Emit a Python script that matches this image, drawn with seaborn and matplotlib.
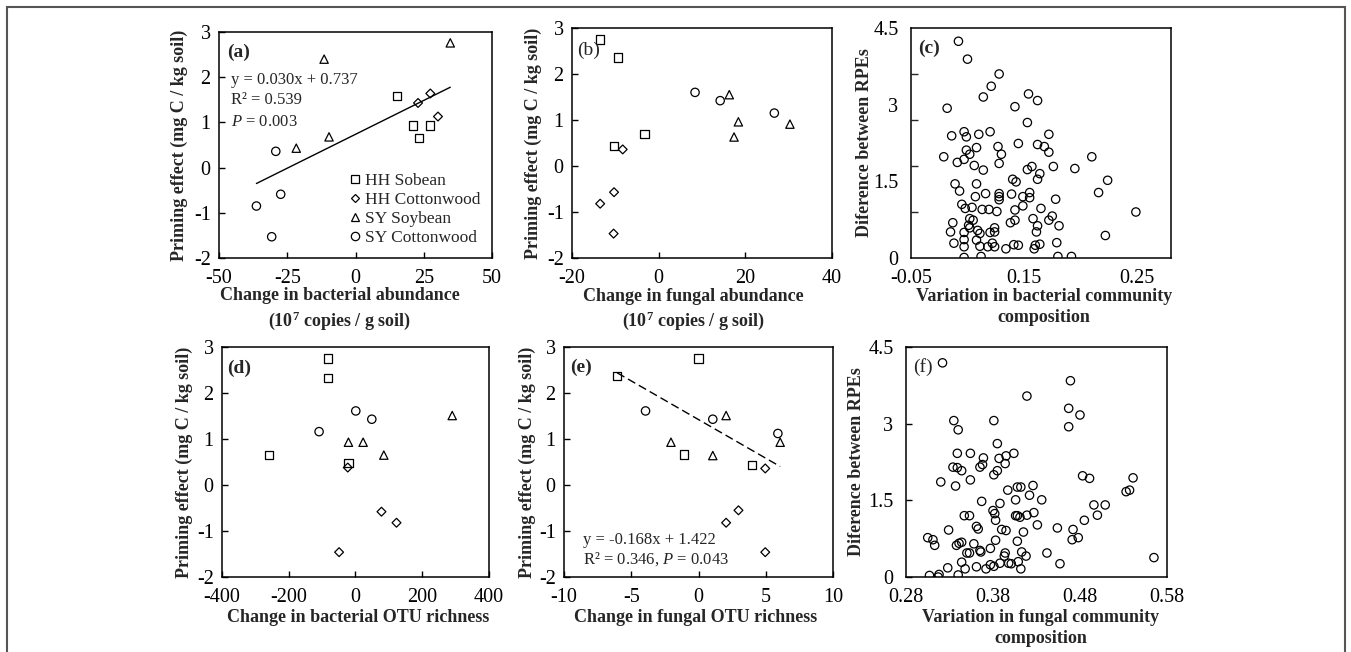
import matplotlib
matplotlib.use("Agg")
import numpy as np
import pandas as pd
import matplotlib.pyplot as plt
import seaborn as sns
from matplotlib.lines import Line2D
from matplotlib.markers import MarkerStyle
from matplotlib.transforms import Affine2D
from matplotlib.patches import Rectangle
from matplotlib.ticker import FixedLocator

# ---- data ----
groups = ["HH Sobean", "HH Cottonwood", "SY Soybean", "SY Cottonwood"]

# (a) change in bacterial abundance
a_x = [15.2, 21.1, 27.2, 23.3,
       22.9, 27.4, 30.2,
       34.7, -11.5, -9.7, -21.7,
       -29.2, -27.4, -36.3, -30.7]
a_y = [1.58, 0.93, 0.93, 0.65,
       1.43, 1.64, 1.13,
       2.76, 2.40, 0.68, 0.43,
       0.36, -0.59, -0.85, -1.53]
a_group = [groups[0]] * 4 + [groups[1]] * 3 + [groups[2]] * 4 + [groups[3]] * 4
a_fit = (0.030, 0.737)

# (b) change in fungal abundance
b_x = [-13.5, -9.4, -3.3, -10.3,
       -8.3, -10.3, -13.5, -10.4,
       16.3, 18.4, 17.4, 30.3,
       8.4, 14.2, 26.7]
b_y = [2.75, 2.36, 0.69, 0.43,
       0.36, -0.57, -0.82, -1.47,
       1.55, 0.96, 0.63, 0.91,
       1.60, 1.42, 1.15]
b_group = [groups[0]] * 4 + [groups[1]] * 4 + [groups[2]] * 4 + [groups[3]] * 3

# (d) change in bacterial OTU richness
d_x = [-83, -83, -259, -21,
       -23, 78, 123, -49,
       -21, 23, 85, 290,
       1, 49, -109]
d_y = [2.75, 2.33, 0.65, 0.48,
       0.38, -0.58, -0.82, -1.46,
       0.93, 0.93, 0.65, 1.51,
       1.61, 1.43, 1.16]
d_group = b_group

# (e) change in fungal OTU richness
e_x = [-6.05, 0.0, -1.06, 3.99,
       4.96, 2.05, 2.97, 4.96,
       2.05, -2.05, 1.06, 6.07,
       -3.94, 1.06, 5.9]
e_y = [2.37, 2.75, 0.66, 0.44,
       0.36, -0.82, -0.55, -1.46,
       1.51, 0.93, 0.64, 0.93,
       1.61, 1.43, 1.12]
e_group = b_group
e_fit = (-0.168, 1.422)

# (c) variation in bacterial community composition vs difference between RPEs
c_x = [0.092, 0.100, 0.128, 0.121, 0.114, 0.154, 0.162, 0.142, 0.082, 0.153,
       0.086, 0.097, 0.099, 0.110, 0.120, 0.172, 0.145, 0.162, 0.168, 0.172,
       0.127, 0.130, 0.108, 0.099, 0.102, 0.079, 0.097, 0.091, 0.128, 0.106,
       0.114, 0.153, 0.157, 0.176, 0.195, 0.210, 0.164, 0.162, 0.140, 0.143,
       0.224, 0.089, 0.108, 0.093, 0.216, 0.116, 0.128, 0.128, 0.128, 0.139,
       0.155, 0.149, 0.155, 0.107, 0.178, 0.095, 0.098, 0.104, 0.113, 0.119,
       0.126, 0.142, 0.149, 0.165, 0.249, 0.102, 0.105, 0.087, 0.101, 0.102,
       0.085, 0.097, 0.109, 0.111, 0.120, 0.124, 0.124, 0.138, 0.142, 0.158,
       0.162, 0.161, 0.172, 0.175, 0.181, 0.222, 0.088, 0.097, 0.108, 0.111,
       0.118, 0.122, 0.124, 0.097, 0.134, 0.141, 0.145, 0.159, 0.160, 0.164,
       0.179, 0.097, 0.112, 0.180, 0.192]
c_y = [4.24, 3.89, 3.60, 3.36, 3.15, 3.21, 3.08, 2.96, 2.93, 2.65,
       2.39, 2.47, 2.37, 2.42, 2.47, 2.42, 2.24, 2.22, 2.18, 2.07,
       2.18, 2.03, 2.16, 2.11, 2.03, 1.98, 1.93, 1.87, 1.85, 1.81,
       1.72, 1.73, 1.79, 1.79, 1.75, 1.98, 1.65, 1.54, 1.54, 1.49,
       1.52, 1.45, 1.45, 1.31, 1.28, 1.26, 1.26, 1.20, 1.14, 1.25,
       1.28, 1.20, 1.18, 1.20, 1.15, 1.05, 0.97, 0.99, 0.95, 0.95,
       0.91, 0.94, 1.02, 0.97, 0.90, 0.77, 0.74, 0.69, 0.64, 0.59,
       0.51, 0.50, 0.54, 0.48, 0.50, 0.59, 0.51, 0.69, 0.74, 0.77,
       0.63, 0.51, 0.74, 0.82, 0.63, 0.44, 0.29, 0.36, 0.35, 0.23,
       0.22, 0.29, 0.22, 0.22, 0.18, 0.26, 0.25, 0.18, 0.25, 0.27,
       0.30, 0.01, 0.03, 0.03, 0.03]

# (f) variation in fungal community composition vs difference between RPEs
f_x = [0.322, 0.469, 0.419, 0.467, 0.480, 0.467, 0.335, 0.340, 0.381, 0.385,
       0.339, 0.354, 0.369, 0.387, 0.395, 0.404, 0.394, 0.334, 0.339, 0.344,
       0.365, 0.368, 0.385, 0.381, 0.320, 0.337, 0.354, 0.483, 0.491, 0.541,
       0.533, 0.537, 0.397, 0.408, 0.412, 0.426, 0.422, 0.367, 0.388, 0.406,
       0.436, 0.496, 0.509, 0.380, 0.382, 0.347, 0.353, 0.383, 0.406, 0.408,
       0.411, 0.419, 0.427, 0.500, 0.485, 0.431, 0.361, 0.363, 0.329, 0.390,
       0.395, 0.454, 0.472, 0.415, 0.305, 0.311, 0.313, 0.338, 0.341, 0.344,
       0.358, 0.383, 0.408, 0.471, 0.478, 0.350, 0.353, 0.365, 0.366, 0.377,
       0.394, 0.393, 0.413, 0.418, 0.442, 0.565, 0.344, 0.348, 0.361, 0.372,
       0.377, 0.381, 0.388, 0.398, 0.401, 0.409, 0.412, 0.457, 0.328, 0.307,
       0.317, 0.318, 0.340]
f_y = [4.19, 3.84, 3.54, 3.30, 3.17, 2.94, 3.06, 2.88, 3.06, 2.61,
       2.42, 2.42, 2.33, 2.32, 2.37, 2.42, 2.22, 2.15, 2.14, 2.08,
       2.15, 2.20, 2.08, 2.00, 1.86, 1.78, 1.90, 1.98, 1.93, 1.94,
       1.67, 1.70, 1.70, 1.76, 1.76, 1.79, 1.60, 1.48, 1.44, 1.51,
       1.51, 1.41, 1.41, 1.30, 1.24, 1.20, 1.20, 1.11, 1.20, 1.20,
       1.17, 1.21, 1.26, 1.21, 1.11, 1.02, 0.99, 0.94, 0.92, 0.93,
       0.91, 0.96, 0.93, 0.88, 0.77, 0.73, 0.62, 0.62, 0.66, 0.68,
       0.65, 0.72, 0.70, 0.73, 0.77, 0.47, 0.47, 0.52, 0.49, 0.56,
       0.47, 0.41, 0.49, 0.41, 0.47, 0.38, 0.29, 0.16, 0.20, 0.16,
       0.24, 0.21, 0.27, 0.27, 0.26, 0.30, 0.16, 0.26, 0.18, 0.03,
       0.00, 0.05, 0.04]

# ---- style ----
sns.set_style("ticks")
plt.rcParams["font.family"] = ["Liberation Serif", "DejaVu Serif"]
plt.rcParams["mathtext.fontset"] = "custom"
plt.rcParams["mathtext.rm"] = "Liberation Serif"
plt.rcParams["mathtext.it"] = "Liberation Serif:italic"
plt.rcParams["mathtext.bf"] = "Liberation Serif:bold"
plt.rcParams["axes.unicode_minus"] = False

diamond = MarkerStyle("D", transform=Affine2D().scale(0.75))
marker_map = {groups[0]: "s", groups[1]: diamond, groups[2]: "^", groups[3]: "o"}
pt_kws = dict(s=36, color="black", facecolor="none", edgecolor="black", linewidth=0.9)

LABEL_FS = 13
TICK_FS = 14.5

fig = plt.figure(figsize=(13.51, 6.52), dpi=100)
ax_a = fig.add_axes([0.1621, 0.6043, 0.2021, 0.3466])
ax_b = fig.add_axes([0.4234, 0.6043, 0.1924, 0.3528])
ax_c = fig.add_axes([0.6743, 0.6043, 0.1924, 0.3528])
ax_d = fig.add_axes([0.1643, 0.1150, 0.1976, 0.3528])
ax_e = fig.add_axes([0.4175, 0.1150, 0.1991, 0.3528])
ax_f = fig.add_axes([0.6706, 0.1150, 0.1932, 0.3528])


def group_scatter(ax, x, y, grp):
    df = pd.DataFrame({"x": x, "y": y, "group": grp})
    sns.scatterplot(data=df, x="x", y="y", style="group", markers=marker_map,
                    style_order=groups, legend=False, ax=ax, **pt_kws)


def fit_line(ax, x, fit, ls):
    xs = np.array([min(x), max(x)])
    sns.lineplot(x=xs, y=fit[0] * xs + fit[1], color="black", linewidth=1.0,
                 linestyle=ls, ax=ax)


def style_ax(ax, xlim, ylim, xticks, yticks, xlabels, ylabels):
    ax.set_xlim(xlim)
    ax.set_ylim(ylim)
    ax.set_xticks(xticks)
    ax.set_xticklabels(xlabels)
    ax.set_yticks(yticks)
    ax.set_yticklabels(ylabels)
    ax.tick_params(direction="in", length=4, width=1, labelsize=TICK_FS, colors="black")
    ax.tick_params(axis="x", pad=8)
    ax.tick_params(axis="y", pad=6)
    for sp in ax.spines.values():
        sp.set_visible(True)
        sp.set_linewidth(1.1)
        sp.set_color("black")


def labels(ax, xl, yl, xc, yc, letter, lx, ly, bold=True, xy=-0.13):
    ax.set_xlabel(xl, fontsize=LABEL_FS, fontweight="bold", linespacing=1.3)
    ax.set_ylabel(yl, fontsize=LABEL_FS, fontweight="bold")
    ax.xaxis.set_label_coords(xc, xy)
    ax.yaxis.set_label_coords(yc, 0.5)
    ax.text(lx, ly, letter, transform=ax.transAxes, fontsize=14,
            fontweight="bold" if bold else "normal", va="center", ha="left")


pe_label = "Priming effect (mg C / kg soil)"
rpe_label = "Diference between RPEs"
pe_ticks = [-2, -1, 0, 1, 2, 3]
pe_ticklabels = ["-2", "-1", "0", "1", "2", "3"]

# (a)
group_scatter(ax_a, a_x, a_y, a_group)
fit_line(ax_a, a_x, a_fit, "-")
style_ax(ax_a, (-50, 50), (-2, 3), [-50, -25, 0, 25, 50], pe_ticks,
         ["-50", "-25", "0", "25", "50"], pe_ticklabels)
labels(ax_a, "Change in bacterial abundance\n(10$^{\\mathbf{7}}$ copies / g soil)",
       pe_label, 0.443, -0.114, "(a)", 0.03, 0.91)
ax_a.text(0.043, 0.788, "y = 0.030x + 0.737", transform=ax_a.transAxes, fontsize=12, va="center")
ax_a.text(0.043, 0.699, "R\u00b2 = 0.539", transform=ax_a.transAxes, fontsize=12, va="center")
ax_a.text(0.043, 0.602, "$P$ = 0.003", transform=ax_a.transAxes, fontsize=12, va="center")
handles = [Line2D([], [], marker=marker_map[g], linestyle="none", markersize=6,
                  markerfacecolor="none", markeredgecolor="black", markeredgewidth=0.9)
           for g in groups]
ax_a.legend(handles, groups, loc="center left", bbox_to_anchor=(0.48, 0.215),
            frameon=False, fontsize=12.5, borderpad=0, borderaxespad=0,
            handlelength=0.6, handletextpad=0.25, labelspacing=0.15)

# (b)
group_scatter(ax_b, b_x, b_y, b_group)
style_ax(ax_b, (-20, 40), (-2, 3), [-20, 0, 20, 40], pe_ticks,
         ["-20", "0", "20", "40"], pe_ticklabels)
labels(ax_b, "Change in fungal abundance\n(10$^{\\mathbf{7}}$ copies / g soil)",
       pe_label, 0.467, -0.115, "(b)", 0.02, 0.904, bold=False)

# (c)
sns.scatterplot(x=c_x, y=c_y, marker="o", ax=ax_c, **pt_kws)
style_ax(ax_c, (0.05, 0.28), (0, 4.5), [0.05, 0.15, 0.25], [0, 1.5, 3, 4.5],
         ["-0.05", "0.15", "0.25"], ["0", "1.5", "3", "4.5"])
ax_c.tick_params(axis="both", which="major", length=0)
ax_c.tick_params(axis="y", pad=9)
ax_c.yaxis.set_minor_locator(FixedLocator([0.9, 1.8, 2.7, 3.6]))
ax_c.tick_params(axis="y", which="minor", direction="in", length=5, width=1)
labels(ax_c, "Variation in bacterial community\ncomposition", rpe_label,
       0.512, -0.146, "(c)", 0.027, 0.913)

# (d)
group_scatter(ax_d, d_x, d_y, d_group)
style_ax(ax_d, (-400, 400), (-2, 3), [-400, -200, 0, 200, 400], pe_ticks,
         ["-400", "-200", "0", "200", "400"], pe_ticklabels)
labels(ax_d, "Change in bacterial OTU richness", pe_label,
       0.51, -0.109, "(d)", 0.019, 0.909, xy=-0.14)

# (e)
group_scatter(ax_e, e_x, e_y, e_group)
fit_line(ax_e, e_x, e_fit, (0, (6, 3)))
style_ax(ax_e, (-10, 10), (-2, 3), [-10, -5, 0, 5, 10], pe_ticks,
         ["-10", "-5", "0", "5", "10"], pe_ticklabels)
labels(ax_e, "Change in fungal OTU richness", pe_label,
       0.49, -0.104, "(e)", 0.022, 0.913, xy=-0.14)
ax_e.text(0.071, 0.161, "y = -0.168x + 1.422", transform=ax_e.transAxes, fontsize=12, va="center")
ax_e.text(0.071, 0.078, "R\u00b2 = 0.346, $P$ = 0.043", transform=ax_e.transAxes, fontsize=12, va="center")

# (f)
sns.scatterplot(x=f_x, y=f_y, marker="o", ax=ax_f, **pt_kws)
style_ax(ax_f, (0.28, 0.58), (0, 4.5), [0.28, 0.38, 0.48, 0.58], [0, 1.5, 3, 4.5],
         ["0.28", "0.38", "0.48", "0.58"], ["0", "1.5", "3", "4.5"])
ax_f.tick_params(axis="x", length=0)
ax_f.tick_params(axis="y", pad=9)
labels(ax_f, "Variation in fungal community\ncomposition", rpe_label,
       0.515, -0.157, "(f)", 0.027, 0.913, bold=False, xy=-0.14)

# outer frame
fig.patches.append(Rectangle((7 / 1351, -0.02), 1338 / 1351, 1 - 7 / 652 + 0.02,
                             transform=fig.transFigure, fill=False,
                             edgecolor="#555555", linewidth=1.5))

fig.savefig("out.png", dpi=100)
